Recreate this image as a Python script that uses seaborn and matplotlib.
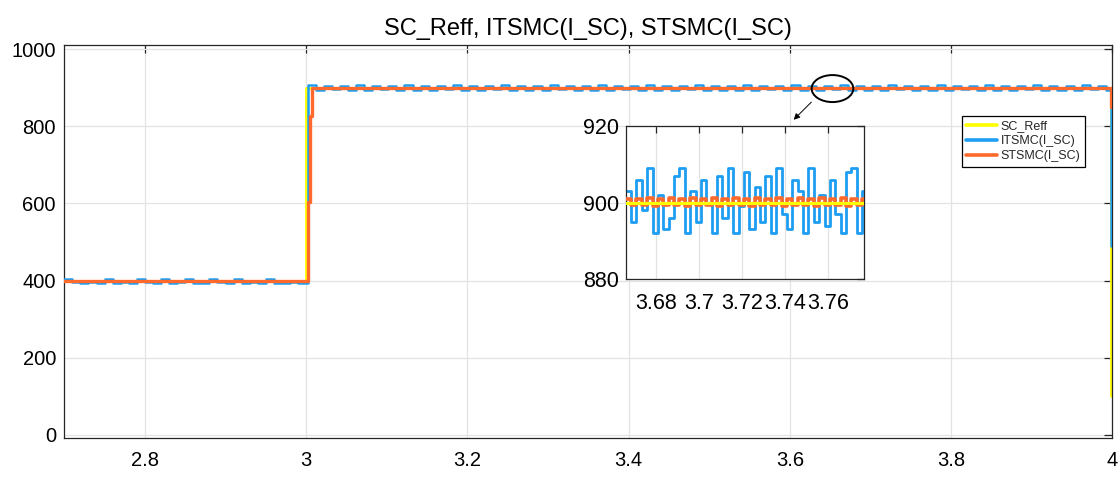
import numpy as np
import pandas as pd
import matplotlib
matplotlib.use("Agg")
import matplotlib.pyplot as plt
import seaborn as sns
from matplotlib.patches import Ellipse
from matplotlib.lines import Line2D

# ---------------- data ----------------
TITLE = "SC_Reff, ITSMC(I_SC), STSMC(I_SC)"
SERIES = ["SC_Reff", "ITSMC(I_SC)", "STSMC(I_SC)"]
COLORS = {"SC_Reff": "#FFFF00", "ITSMC(I_SC)": "#1E9EF2", "STSMC(I_SC)": "#FF6A2C"}

x_ticks = [2.8, 3.0, 3.2, 3.4, 3.6, 3.8, 4.0]
x_tick_labels = ["2.8", "3", "3.2", "3.4", "3.6", "3.8", "4"]
y_ticks = [0, 200, 400, 600, 800, 1000]

# reference current (step)
ref_t = [2.70, 3.000, 3.9988, 4.000]
ref_v = [400, 900, 100, 100]

# STSMC current
st_t = [2.70, 3.0025, 3.0045, 3.0075, 3.9988, 4.000]
st_v = [400, 604, 826, 900, 850, 850]

# ITSMC current, sampled every 0.01 s
it_pre_start, it_post_start, it_dt = 2.70, 3.002, 0.01
it_pre = [405, 396, 394, 397, 395, 404, 394, 396, 395, 404,
          396, 394, 403, 395, 396, 404, 394, 395, 403, 396,
          394, 404, 395, 396, 394, 404, 395, 394, 396, 395]
it_post = [906, 894, 905, 896, 904, 895, 906, 893, 905, 896,
           904, 894, 906, 895, 905, 894, 904, 896, 906, 895,
           905, 893, 904, 896, 906, 894, 905, 895, 904, 894,
           906, 896, 905, 893, 904, 895, 906, 894, 905, 896,
           904, 895, 906, 893, 905, 894, 904, 896, 906, 895,
           905, 894, 904, 895, 906, 893, 905, 896, 904, 894,
           906, 895, 905, 894, 904, 896, 906, 893, 905, 895,
           904, 894, 906, 896, 905, 893, 904, 895, 906, 894,
           905, 896, 904, 894, 906, 895, 905, 893, 904, 896,
           906, 894, 905, 895, 904, 893, 906, 896, 905, 894]
it_end_t, it_end_v = [3.9988, 4.000], [490, 490]

# zoomed window (inset), sampled every 0.0025 s
ins_start, ins_dt = 3.666, 0.0025
ins_blue = [903, 895, 906, 898, 909, 892, 902, 893, 896, 907,
            909, 892, 903, 895, 906, 900, 892, 907, 896, 909,
            892, 899, 908, 893, 904, 895, 907, 892, 909, 897,
            893, 906, 903, 892, 909, 895, 902, 894, 906, 897,
            892, 908, 909, 892, 903]
ins_orange = [901.0, 899.3, 901.0, 899.4, 901.2, 899.2, 901.0, 899.4, 901.1, 899.3,
              901.0, 899.2, 901.2, 899.4, 901.0, 899.3, 901.1, 899.2, 901.0, 899.4,
              901.2, 899.3, 901.0, 899.2, 901.1, 899.4, 901.0, 899.3, 901.2, 899.2,
              901.0, 899.4, 901.1, 899.3, 901.0, 899.2, 901.2, 899.4, 901.0, 899.3,
              901.1, 899.2, 901.0, 899.4, 901.0]
ins_ref_t = [3.666, 3.777]
ins_ref_v = [900, 900]
ins_xticks = [3.68, 3.70, 3.72, 3.74, 3.76]
ins_xtick_labels = ["3.68", "3.7", "3.72", "3.74", "3.76"]
ins_yticks = [880, 900, 920]

# ---------------- build frames ----------------
it_t = ([it_pre_start + it_dt * i for i in range(len(it_pre))]
        + [it_post_start + it_dt * i for i in range(len(it_post))] + it_end_t)
it_v = it_pre + it_post + it_end_v
df_ref = pd.DataFrame({"t": ref_t, "v": ref_v})
df_it = pd.DataFrame({"t": np.round(it_t, 4), "v": it_v})
df_st = pd.DataFrame({"t": st_t, "v": st_v})

ins_t = np.round([ins_start + ins_dt * i for i in range(len(ins_blue))], 5)
ins_t_ext = list(ins_t) + [3.777]
df_ib = pd.DataFrame({"t": ins_t_ext, "v": ins_blue + [ins_blue[-1]]})
df_io = pd.DataFrame({"t": ins_t_ext, "v": ins_orange + [ins_orange[-1]]})
df_ir = pd.DataFrame({"t": ins_ref_t, "v": ins_ref_v})

# ---------------- style ----------------
sns.set_style("white")
plt.rcParams["font.family"] = ["Liberation Sans", "DejaVu Sans"]
AX_COL = "#262626"
GRID_COL = "#E3E3E3"

fig = plt.figure(figsize=(11.2, 4.99), dpi=100)
ax = fig.add_axes([64.3 / 1120, 1 - 438.3 / 499, (1112.3 - 64.3) / 1120, (438.3 - 45) / 499])

common = dict(x="t", y="v", estimator=None, drawstyle="steps-post", legend=False)
sns.lineplot(data=df_ref, ax=ax, color=COLORS["SC_Reff"], linewidth=2.0, zorder=2, **common)
sns.lineplot(data=df_it, ax=ax, color=COLORS["ITSMC(I_SC)"], linewidth=1.8, zorder=3, **common)
sns.lineplot(data=df_st, ax=ax, color=COLORS["STSMC(I_SC)"], linewidth=2.4, zorder=4, **common)

ax.set_xlim(2.7, 4.0)
ax.set_ylim(-9, 1011)
ax.set_xticks(x_ticks)
ax.set_xticklabels(x_tick_labels)
ax.set_yticks(y_ticks)
ax.set_xlabel("")
ax.set_ylabel("")
ax.set_title(TITLE, fontsize=17, color="black", pad=7)
ax.grid(True, color=GRID_COL, linewidth=0.9)
ax.set_axisbelow(True)
for s in ax.spines.values():
    s.set_visible(True)
    s.set_color(AX_COL)
    s.set_linewidth(0.9)
ax.tick_params(axis="both", direction="in", length=6, width=0.9, color=AX_COL,
               labelcolor="black", labelsize=14.5, top=True, right=True)
ax.tick_params(axis="x", pad=9)
ax.tick_params(axis="y", pad=6)

# ellipse + arrow annotation
ax.add_patch(Ellipse((3.6529, 898), 0.0517, 70, fill=False, ec="black", lw=1.4, zorder=6))
ax.annotate("", xy=(3.6023, 812), xytext=(3.6291, 868),
            arrowprops=dict(arrowstyle="-|>", color="black", lw=0.7, mutation_scale=9),
            zorder=6)

# legend
handles = [Line2D([0], [0], color=COLORS[s], lw=2.6) for s in SERIES]
leg = ax.legend(handles, SERIES, loc="upper left", bbox_to_anchor=(961.7 / 1120, 1 - 115.7 / 499),
                bbox_transform=fig.transFigure, borderaxespad=0, fontsize=9,
                handlelength=2.45, handletextpad=0.3, labelspacing=0.25, borderpad=0.35,
                fancybox=False, framealpha=1, edgecolor="black")
leg.get_frame().set_linewidth(0.9)
leg.set_zorder(10)

# inset
axi = fig.add_axes([625.7 / 1120, 1 - 279.3 / 499, (864.3 - 625.7) / 1120, (279.3 - 126) / 499])
axi.set_facecolor("white")
sns.lineplot(data=df_ib, ax=axi, color=COLORS["ITSMC(I_SC)"], linewidth=2.0, zorder=2, **common)
sns.lineplot(data=df_io, ax=axi, color=COLORS["STSMC(I_SC)"], linewidth=2.6, zorder=3, **common)
sns.lineplot(data=df_ir, ax=axi, color=COLORS["SC_Reff"], linewidth=2.2, zorder=4, **common)
axi.set_xlim(3.666, 3.777)
axi.set_ylim(880, 920)
axi.set_xticks(ins_xticks)
axi.set_xticklabels(ins_xtick_labels)
axi.set_yticks(ins_yticks)
axi.set_xlabel("")
axi.set_ylabel("")
axi.grid(True, color=GRID_COL, linewidth=0.9)
axi.set_axisbelow(True)
for s in axi.spines.values():
    s.set_visible(True)
    s.set_color(AX_COL)
    s.set_linewidth(0.9)
axi.tick_params(axis="both", direction="in", length=5, width=0.9, color=AX_COL,
                labelcolor="black", labelsize=15.5, top=True, right=True)
axi.tick_params(axis="x", pad=10)
axi.tick_params(axis="y", pad=5)

fig.savefig("out.png", dpi=100)
